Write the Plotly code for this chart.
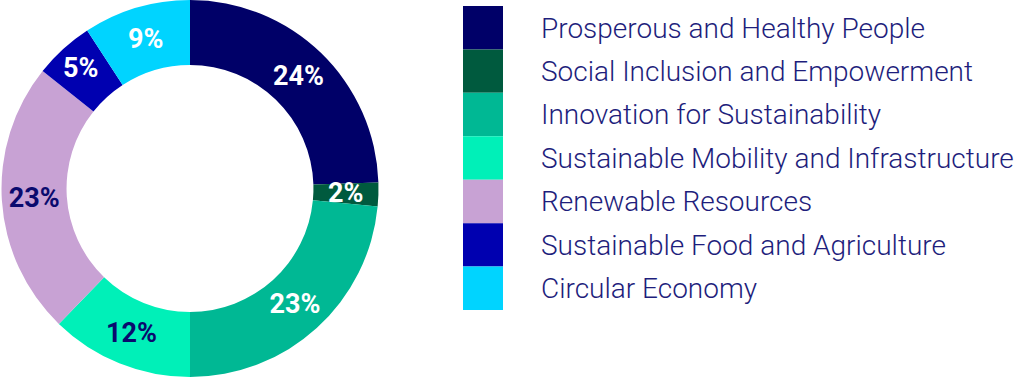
import math
import plotly.graph_objects as go

categories = [
    "Prosperous and Healthy People",
    "Social Inclusion and Empowerment",
    "Innovation for Sustainability",
    "Sustainable Mobility and Infrastructure",
    "Renewable Resources",
    "Sustainable Food and Agriculture",
    "Circular Economy",
]
values = [24, 2, 23, 12, 23, 5, 9]
colors = ["#000068", "#005a3e", "#00b894", "#00f0b8", "#c8a2d4", "#0000b0", "#00d4ff"]
label_colors = ["#ffffff", "#ffffff", "#ffffff", "#0a0a6e", "#0a0a6e", "#ffffff", "#ffffff"]
W, H = 1032, 377
HOLE = 0.655
PIE_W = 380
LABEL_FONT = dict(family="Roboto", size=27, weight="bold")

# slices too thin for Plotly to centre their label get an annotation instead
thin = [v / sum(values) < 0.04 for v in values]
texts = ["" if t else f"{v}%" for v, t in zip(values, thin)]

fig = go.Figure()
fig.add_trace(go.Pie(
    labels=categories,
    values=values,
    text=texts,
    textinfo="text",
    textposition="inside",
    insidetextorientation="horizontal",
    textfont=dict(color=label_colors, **LABEL_FONT),
    marker=dict(colors=colors, line=dict(width=0)),
    hole=HOLE,
    sort=False,
    direction="clockwise",
    rotation=0,
    domain=dict(x=[0, PIE_W / W], y=[0, 1]),
    showlegend=False,
    automargin=False,
))

# labels for thin slices, placed at the slice's mid-angle on the ring's mid-radius
total = sum(values)
cum = 0
R = min(PIE_W, H) / 2
for v, t, c in zip(values, thin, label_colors):
    mid = (cum + v / 2) / total * 2 * math.pi
    cum += v
    if not t:
        continue
    rm = R * (1 + HOLE) / 2
    px = PIE_W / 2 + rm * math.sin(mid)
    py = H / 2 + rm * math.cos(mid)
    fig.add_annotation(x=px / W, y=py / H, xref="paper", yref="paper",
                       text=f"{v}%", showarrow=False,
                       font=dict(color=c, **LABEL_FONT))

fig.add_trace(go.Bar(
    y=categories,
    x=[1] * len(categories),
    orientation="h",
    width=1,
    marker=dict(color=colors, line=dict(width=0)),
    xaxis="x", yaxis="y",
    showlegend=False,
    hoverinfo="skip",
))

fig.update_layout(
    width=W, height=H,
    margin=dict(l=0, r=0, t=0, b=0, autoexpand=False),
    paper_bgcolor="white", plot_bgcolor="white",
    uniformtext=dict(minsize=27, mode="show"),
    xaxis=dict(domain=[463 / W, 503 / W], range=[0, 1], visible=False,
               fixedrange=True, automargin=False),
    yaxis=dict(
        domain=[(H - 310) / H, (H - 6) / H],
        autorange="reversed",
        side="right",
        automargin=False,
        showgrid=False, zeroline=False, showline=False,
        ticks="", ticklabelstandoff=37,
        tickfont=dict(family="Roboto", size=28, color="#1e1e7c", weight=300),
    ),
)

fig.write_html("out.html", config={"displayModeBar": False},
               post_script="document.body.style.margin='0';document.body.style.overflow='hidden';")
